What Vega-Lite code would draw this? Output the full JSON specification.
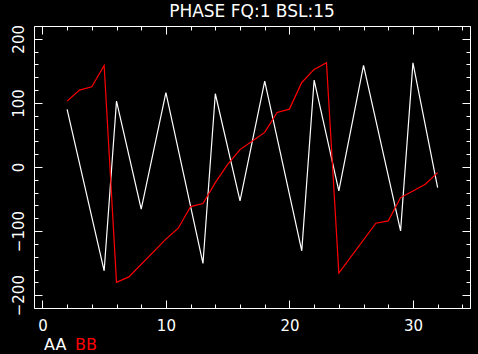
{
  "$schema": "https://vega.github.io/schema/vega-lite/v6.json",
  "background": "black",
  "autosize": "none",
  "width": 436,
  "height": 282,
  "padding": {"left": 34, "top": 26, "right": 8, "bottom": 46},
  "title": {"text": "PHASE FQ:1 BSL:15", "color": "white", "fontSize": 17, "font": "DejaVu Sans", "fontWeight": "normal", "anchor": "middle", "frame": "group", "baseline": "alphabetic", "offset": -9},
  "config": {
    "view": {"stroke": "white", "strokeWidth": 1},
    "axis": {"grid": false, "domain": false, "tickColor": "white", "tickWidth": 1, "labelColor": "white", "labelFont": "DejaVu Sans", "labelFontSize": 15, "labelFontWeight": "normal", "title": null, "labelFlush": false, "labelOverlap": false}
  },
  "data": {"values": [
    {"x": 2, "y": 89.9, "series": "AA"},
    {"x": 5, "y": -162, "series": "AA"},
    {"x": 6, "y": 102.8, "series": "AA"},
    {"x": 8, "y": -65.9, "series": "AA"},
    {"x": 10, "y": 115.9, "series": "AA"},
    {"x": 13, "y": -150.5, "series": "AA"},
    {"x": 14, "y": 114.3, "series": "AA"},
    {"x": 16, "y": -53, "series": "AA"},
    {"x": 18, "y": 134, "series": "AA"},
    {"x": 21, "y": -130.8, "series": "AA"},
    {"x": 22, "y": 135.5, "series": "AA"},
    {"x": 24, "y": -37.4, "series": "AA"},
    {"x": 26, "y": 158.4, "series": "AA"},
    {"x": 29, "y": -99.7, "series": "AA"},
    {"x": 30, "y": 162.6, "series": "AA"},
    {"x": 32, "y": -32.1, "series": "AA"},
    {"x": 2, "y": 102.8, "series": "BB"},
    {"x": 3, "y": 119.9, "series": "BB"},
    {"x": 4, "y": 125.2, "series": "BB"},
    {"x": 5, "y": 158.4, "series": "BB"},
    {"x": 6, "y": -180, "series": "BB"},
    {"x": 7, "y": -171.5, "series": "BB"},
    {"x": 10, "y": -112.6, "series": "BB"},
    {"x": 11, "y": -95.5, "series": "BB"},
    {"x": 12, "y": -61.7, "series": "BB"},
    {"x": 13, "y": -56.9, "series": "BB"},
    {"x": 14, "y": -24.3, "series": "BB"},
    {"x": 15, "y": 4.2, "series": "BB"},
    {"x": 16, "y": 27.1, "series": "BB"},
    {"x": 17, "y": 40.5, "series": "BB"},
    {"x": 18, "y": 54, "series": "BB"},
    {"x": 19, "y": 85.2, "series": "BB"},
    {"x": 20, "y": 90.3, "series": "BB"},
    {"x": 21, "y": 131.9, "series": "BB"},
    {"x": 22, "y": 152.2, "series": "BB"},
    {"x": 23, "y": 162.6, "series": "BB"},
    {"x": 24, "y": -165.6, "series": "BB"},
    {"x": 27, "y": -87.7, "series": "BB"},
    {"x": 28, "y": -84.1, "series": "BB"},
    {"x": 29, "y": -47.7, "series": "BB"},
    {"x": 30, "y": -37.4, "series": "BB"},
    {"x": 31, "y": -26.9, "series": "BB"},
    {"x": 32, "y": -8.7, "series": "BB"}
  ]},
  "layer": [
    {
      "mark": {"type": "line", "strokeWidth": 1.2, "interpolate": "linear"},
      "encoding": {
        "x": {"field": "x", "type": "quantitative", "scale": {"domain": [-0.68, 34.62], "nice": false, "zero": false},
          "axis": {"orient": "bottom", "values": [0, 10, 20, 30], "ticks": false, "labelPadding": 10}},
        "y": {"field": "y", "type": "quantitative", "scale": {"domain": [-220, 220], "nice": false, "zero": false},
          "axis": {"orient": "left", "values": [-200, -100, 0, 100, 200], "ticks": false, "labelAngle": -90, "labelAlign": "center", "labelBaseline": "bottom", "labelPadding": 8}},
        "color": {"field": "series", "type": "nominal", "scale": {"domain": ["AA", "BB"], "range": ["#ffffff", "#ff0000"]},
          "legend": {"orient": "none", "legendX": 10, "legendY": 311, "direction": "horizontal", "title": null, "symbolSize": 0, "symbolOpacity": 0, "symbolStrokeWidth": 0, "labelOffset": -16, "columnPadding": 8, "labelFontSize": 16, "labelFont": "DejaVu Sans",
            "encode": {"labels": {"update": {"fill": {"signal": "datum.value === 'BB' ? '#ff0000' : '#ffffff'"}}}}}}
      }
    },
    {
      "mark": {"type": "line", "strokeOpacity": 0},
      "encoding": {
        "x": {"field": "x", "type": "quantitative", "scale": {"domain": [-0.68, 34.62], "nice": false, "zero": false},
          "axis": {"orient": "bottom", "values": [2, 4, 6, 8, 12, 14, 16, 18, 22, 24, 26, 28, 32, 34], "labels": false, "tickSize": -4}},
        "y": {"field": "y", "type": "quantitative", "scale": {"domain": [-220, 220], "nice": false, "zero": false},
          "axis": {"orient": "left", "values": [-220, -180, -160, -140, -120, -80, -60, -40, -20, 20, 40, 60, 80, 120, 140, 160, 180, 220], "labels": false, "tickSize": -4}},
        "detail": {"field": "series"}
      }
    },
    {
      "mark": {"type": "line", "strokeOpacity": 0},
      "encoding": {
        "x": {"field": "x", "type": "quantitative", "scale": {"domain": [-0.68, 34.62], "nice": false, "zero": false},
          "axis": {"orient": "bottom", "values": [0, 10, 20, 30], "labels": false, "tickSize": -8}},
        "y": {"field": "y", "type": "quantitative", "scale": {"domain": [-220, 220], "nice": false, "zero": false},
          "axis": {"orient": "left", "values": [-200, -100, 0, 100, 200], "labels": false, "tickSize": -8}},
        "detail": {"field": "series"}
      }
    },
    {
      "mark": {"type": "line", "strokeOpacity": 0},
      "encoding": {
        "x": {"field": "x", "type": "quantitative", "scale": {"domain": [-0.68, 34.62], "nice": false, "zero": false},
          "axis": {"orient": "top", "values": [2, 4, 6, 8, 12, 14, 16, 18, 22, 24, 26, 28, 32, 34], "labels": false, "tickSize": -4}},
        "y": {"field": "y", "type": "quantitative", "scale": {"domain": [-220, 220], "nice": false, "zero": false},
          "axis": {"orient": "right", "values": [-220, -180, -160, -140, -120, -80, -60, -40, -20, 20, 40, 60, 80, 120, 140, 160, 180, 220], "labels": false, "tickSize": -4}},
        "detail": {"field": "series"}
      }
    },
    {
      "mark": {"type": "line", "strokeOpacity": 0},
      "encoding": {
        "x": {"field": "x", "type": "quantitative", "scale": {"domain": [-0.68, 34.62], "nice": false, "zero": false},
          "axis": {"orient": "top", "values": [0, 10, 20, 30], "labels": false, "tickSize": -8}},
        "y": {"field": "y", "type": "quantitative", "scale": {"domain": [-220, 220], "nice": false, "zero": false},
          "axis": {"orient": "right", "values": [-200, -100, 0, 100, 200], "labels": false, "tickSize": -8}},
        "detail": {"field": "series"}
      }
    }
  ],
  "resolve": {"axis": {"x": "independent", "y": "independent"}}
}
